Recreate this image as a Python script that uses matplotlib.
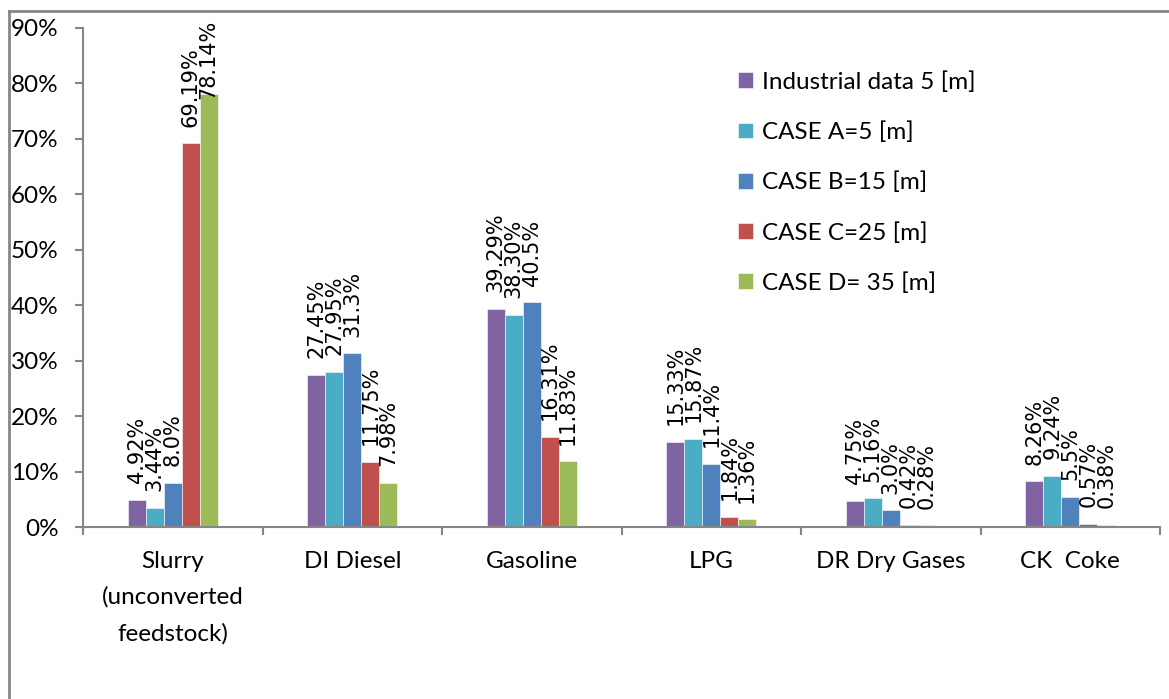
import numpy as np
import matplotlib
matplotlib.use("Agg")
import matplotlib.pyplot as plt
from matplotlib.lines import Line2D

categories = ["Slurry\n(unconverted\nfeedstock)", "DI Diesel", "Gasoline", "LPG",
              "DR Dry Gases", "CK  Coke"]
series_names = ["Industrial data 5 [m]", "CASE A=5 [m]", "CASE B=15 [m]",
                "CASE C=25 [m]", "CASE D= 35 [m]"]
industrial = [4.92, 27.45, 39.29, 15.33, 4.75, 8.26]
case_a = [3.44, 27.95, 38.30, 15.87, 5.16, 9.24]
case_b = [8.0, 31.3, 40.5, 11.4, 3.0, 5.5]
case_c = [69.19, 11.75, 16.31, 1.84, 0.42, 0.57]
case_d = [78.14, 7.98, 11.83, 1.36, 0.28, 0.38]
label_industrial = ["4.92%", "27.45%", "39.29%", "15.33%", "4.75%", "8.26%"]
label_a = ["3.44%", "27.95%", "38.30%", "15.87%", "5.16%", "9.24%"]
label_b = ["8.0%", "31.3%", "40.5%", "11.4%", "3.0%", "5.5%"]
label_c = ["69.19%", "11.75%", "16.31%", "1.84%", "0.42%", "0.57%"]
label_d = ["78.14%", "7.98%", "11.83%", "1.36%", "0.28%", "0.38%"]

values = [industrial, case_a, case_b, case_c, case_d]
labels = [label_industrial, label_a, label_b, label_c, label_d]
colors = ["#8064A2", "#4BACC6", "#4F81BD", "#C0504D", "#9BBB59"]

body_font = "Lato"
grey = "#868686"
W, H = 1169, 699

fig = plt.figure(figsize=(W / 100, H / 100), dpi=100)
ax = fig.add_axes([83 / W, 1 - 527 / H, (1160 - 83) / W, (527 - 28) / H])

x = np.arange(len(categories)) + 0.5
w = 0.1
annots = []
for i, (vals, labs) in enumerate(zip(values, labels)):
    pos = x + (i - 2) * w
    ax.bar(pos, np.array(vals) / 100, width=w, color=colors[i], edgecolor="white",
           linewidth=0.4, label=series_names[i])
    for p, v, t in zip(pos, vals, labs):
        a = ax.annotate(t, (p, v / 100), xytext=(0, 12), textcoords="offset points",
                        rotation=90, ha="center", va="bottom", fontsize=15,
                        family="DejaVu Sans", annotation_clip=False)
        annots.append(a)

ax.set_xlim(0, 6)
ax.set_ylim(0, 0.9)
ax.set_yticks(np.arange(0, 0.91, 0.1))
ax.set_yticklabels([f"{int(round(v * 100))}%" for v in np.arange(0, 0.91, 0.1)],
                   family=body_font, fontsize=17.5)
ax.set_xticks(x)
ax.set_xticklabels(categories, family=body_font, fontsize=17.5, linespacing=1.85,
                   va="top")
ax.set_xticks(np.arange(0, 7), minor=True)
ax.tick_params(axis="x", which="major", length=0, pad=17)
ax.tick_params(axis="x", which="minor", length=5.5, width=1.5, color=grey, direction="out")
ax.tick_params(axis="y", length=5.5, width=1.5, color=grey, direction="out", pad=12)

for s in ["top", "right"]:
    ax.spines[s].set_visible(False)
for s in ["left", "bottom"]:
    ax.spines[s].set_color(grey)
    ax.spines[s].set_linewidth(1.5)

ax.legend(loc="upper left", bbox_to_anchor=(738 / W, 1 - 71 / H),
          bbox_transform=fig.transFigure, frameon=False,
          prop={"family": body_font, "size": 17.5}, handlelength=0.62,
          handleheight=0.62, handletextpad=0.35, labelspacing=1.18,
          borderpad=0, borderaxespad=0)

# keep data labels inside the chart area, like the spreadsheet does
fig.canvas.draw()
r = fig.canvas.get_renderer()
limit = H - 20
for a in annots:
    bb = a.get_window_extent(r)
    if bb.y1 > limit:
        shift = (bb.y1 - limit) * 72 / fig.dpi
        a.xyann = (0, 12 - shift)

# outer chart frame
fig.add_artist(Line2D([9 / W, 1], [1 - 11 / H, 1 - 11 / H], color=grey, lw=2,
                      transform=fig.transFigure))
fig.add_artist(Line2D([9 / W, 9 / W], [0, 1 - 11 / H], color=grey, lw=2,
                      transform=fig.transFigure))

fig.savefig("out.png", dpi=100)
